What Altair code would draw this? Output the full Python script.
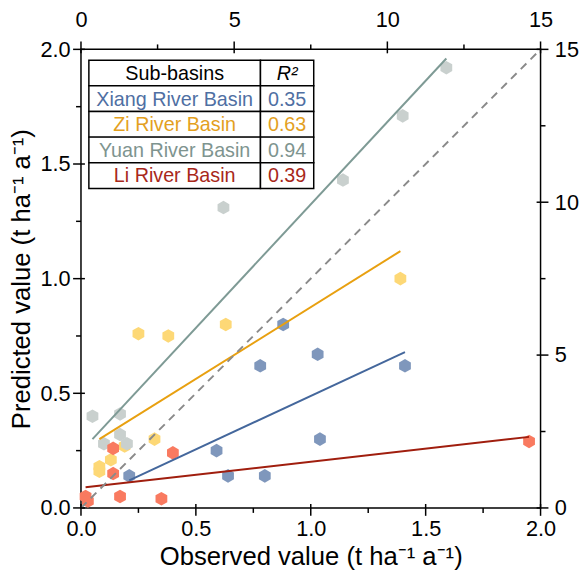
import altair as alt
import pandas as pd

# ---------------- data ----------------
basins = ["Xiang River Basin", "Zi River Basin", "Yuan River Basin", "Li River Basin"]
r2_values = ["0.35", "0.63", "0.94", "0.39"]

xiang_obs = [0.21, 0.59, 0.64, 0.80, 0.78, 0.88, 1.03, 1.04, 1.41]
xiang_pred = [0.14, 0.25, 0.14, 0.14, 0.62, 0.80, 0.67, 0.30, 0.62]

zi_obs = [0.08, 0.08, 0.13, 0.19, 0.32, 0.25, 0.38, 0.63, 1.39]
zi_pred = [0.18, 0.16, 0.21, 0.27, 0.30, 0.76, 0.75, 0.80, 1.00]

yuan_obs = [0.05, 0.17, 0.17, 0.10, 0.20, 0.62, 1.14, 1.40, 1.59]
yuan_pred = [0.40, 0.41, 0.32, 0.28, 0.28, 1.31, 1.43, 1.71, 1.92]

li_obs = [0.14, 0.14, 0.40, 0.17, 0.35, 0.02, 0.03, 1.95]
li_pred = [0.26, 0.15, 0.24, 0.05, 0.04, 0.05, 0.03, 0.29]

# regression line end points
fit_x0 = [0.21, 0.08, 0.05, 0.02]
fit_y0 = [0.12, 0.30, 0.30, 0.09]
fit_x1 = [1.41, 1.39, 1.59, 1.95]
fit_y1 = [0.68, 1.12, 1.96, 0.31]

one_to_one = [0.0, 2.0]

x_major = [0.0, 0.5, 1.0, 1.5, 2.0]
x_minor = [0.25, 0.75, 1.25, 1.75]
sec_major = [0, 5, 10, 15]
sec_minor = [2.5, 7.5, 12.5]

# ---------------- styles ----------------
point_colors = ["#7f97bc", "#fdd876", "#c9d0ce", "#f97a60"]
line_colors = ["#44679c", "#e8a010", "#7e9a95", "#a01e0e"]
text_colors = ["#4f6fa3", "#e3a01e", "#7e948f", "#a8281a"]
FONT = "Liberation Sans"
HEX = "M0,-1L0.866,-0.5L0.866,0.5L0,1L-0.866,0.5L-0.866,-0.5Z"
W, H = 466, 465

rows = []
for b, xs_, ys_ in zip(basins, [xiang_obs, zi_obs, yuan_obs, li_obs],
                       [xiang_pred, zi_pred, yuan_pred, li_pred]):
    for a, p in zip(xs_, ys_):
        rows.append({"basin": b, "obs": a, "pred": p})
points_df = pd.DataFrame(rows)

fits_df = pd.DataFrame({"basin": basins, "x0": fit_x0, "y0": fit_y0,
                        "x1": fit_x1, "y1": fit_y1})
diag_df = pd.DataFrame({"v": one_to_one})

sec_major_v = [s * 2 / 15 for s in sec_major]
sec_minor_v = [s * 2 / 15 for s in sec_minor]

xscale = alt.Scale(domain=[0, 2], nice=False, zero=False)
yscale = alt.Scale(domain=[0, 2], nice=False, zero=False)


def label_axis(orient, values, title, fmt=None, expr=None, pad=3, tpad=8):
    kw = dict(orient=orient, values=values, domain=False, grid=False,
              ticks=True, tickSize=8, tickOpacity=0,
              labelFont=FONT, labelFontSize=22, labelColor="black",
              labelPadding=pad, labelFlush=False, labelOverlap=False,
              title=title, titleFont=FONT, titleFontSize=26,
              titleFontWeight="normal", titleColor="black", titlePadding=tpad)
    if fmt is not None:
        kw["format"] = fmt
    if expr is not None:
        kw["labelExpr"] = expr
    return alt.Axis(**kw)


sec_expr = "format(datum.value * 7.5, '.0f')"

points = alt.Chart(points_df).mark_point(
    shape=HEX, size=190, filled=True, opacity=1, strokeWidth=0
).encode(
    x=alt.X("obs:Q", scale=xscale,
            axis=label_axis("bottom", x_major, "Observed value (t ha⁻¹ a⁻¹)", fmt=".1f", tpad=4)),
    y=alt.Y("pred:Q", scale=yscale,
            axis=label_axis("left", x_major, "Predicted value (t ha⁻¹ a⁻¹)", fmt=".1f", tpad=6)),
    fill=alt.Fill("basin:N", scale=alt.Scale(domain=basins, range=point_colors), legend=None),
)

fits = alt.Chart(fits_df).mark_rule(strokeWidth=2).encode(
    x=alt.X("x0:Q", scale=xscale, axis=None),
    y=alt.Y("y0:Q", scale=yscale, axis=None),
    x2="x1:Q",
    y2="y1:Q",
    stroke=alt.Stroke("basin:N", scale=alt.Scale(domain=basins, range=line_colors), legend=None),
)

diag = alt.Chart(diag_df).mark_line(
    strokeDash=[8, 6], color="#8a8a8a", strokeWidth=2
).encode(
    x=alt.X("v:Q", scale=xscale, axis=label_axis("top", sec_major_v, "", expr=sec_expr, pad=10)),
    y=alt.Y("v:Q", scale=yscale, axis=label_axis("right", sec_major_v, "", expr=sec_expr, pad=6)),
)


# ---------------- tick marks drawn through the scales ----------------
def xticks(values, y_a, y_b):
    return alt.Chart(pd.DataFrame({"t": values})).mark_rule(
        color="black", strokeWidth=1.5
    ).encode(x=alt.X("t:Q", scale=xscale, axis=None),
             y=alt.value(y_a), y2=alt.value(y_b))


def yticks(values, x_a, x_b):
    return alt.Chart(pd.DataFrame({"t": values})).mark_rule(
        color="black", strokeWidth=1.5
    ).encode(y=alt.Y("t:Q", scale=yscale, axis=None),
             x=alt.value(x_a), x2=alt.value(x_b))


tick_layers = [
    xticks(x_major, H - 4, H + 8),
    xticks(x_minor, H, H + 5),
    xticks(sec_major_v, -8, 4),
    xticks(sec_minor_v, -5, 0),
    yticks(x_major, -8, 4),
    yticks(x_minor, -5, 0),
    yticks(sec_major_v, W - 4, W + 8),
    yticks(sec_minor_v, W, W + 5),
]

# ---------------- table (pixel layout relative to plot origin) ----------------
T_LEFT, T_COL, T_RIGHT = 8, 182, 236
T_TOP, ROW_H = 11, 26
one = alt.Data(values=[{"k": 0}])
table_layers = []
header = ["Sub-basins", "R²"]
row_texts = [header] + [[b, r] for b, r in zip(basins, r2_values)]
row_colors = [["black", "black"]] + [[c, c] for c in text_colors]
for i, (texts, cols) in enumerate(zip(row_texts, row_colors)):
    y0 = T_TOP + i * ROW_H
    for j, (x0, x1) in enumerate([(T_LEFT, T_COL), (T_COL, T_RIGHT)]):
        table_layers.append(
            alt.Chart(one).mark_rect(fill="white", stroke="black", strokeWidth=1.5).encode(
                x=alt.value(x0), x2=alt.value(x1), y=alt.value(y0), y2=alt.value(y0 + ROW_H)
            )
        )
        style = "italic" if (i == 0 and j == 1) else "normal"
        table_layers.append(
            alt.Chart(one).mark_text(
                text=texts[j], font=FONT, fontSize=20, color=cols[j],
                align="center", baseline="middle", fontStyle=style
            ).encode(x=alt.value((x0 + x1) / 2), y=alt.value(y0 + ROW_H / 2 + 1))
        )

chart = alt.layer(points, fits, diag, *tick_layers, *table_layers).resolve_axis(
    x="independent", y="independent"
).properties(
    width=W, height=H,
    autosize=alt.AutoSizeParams(type="none"),
    padding={"left": 74, "top": 38, "right": 40, "bottom": 60},
).configure_view(stroke="black", strokeWidth=1.5)

chart.save("out.html", embed_options={"renderer": "svg", "actions": False})
